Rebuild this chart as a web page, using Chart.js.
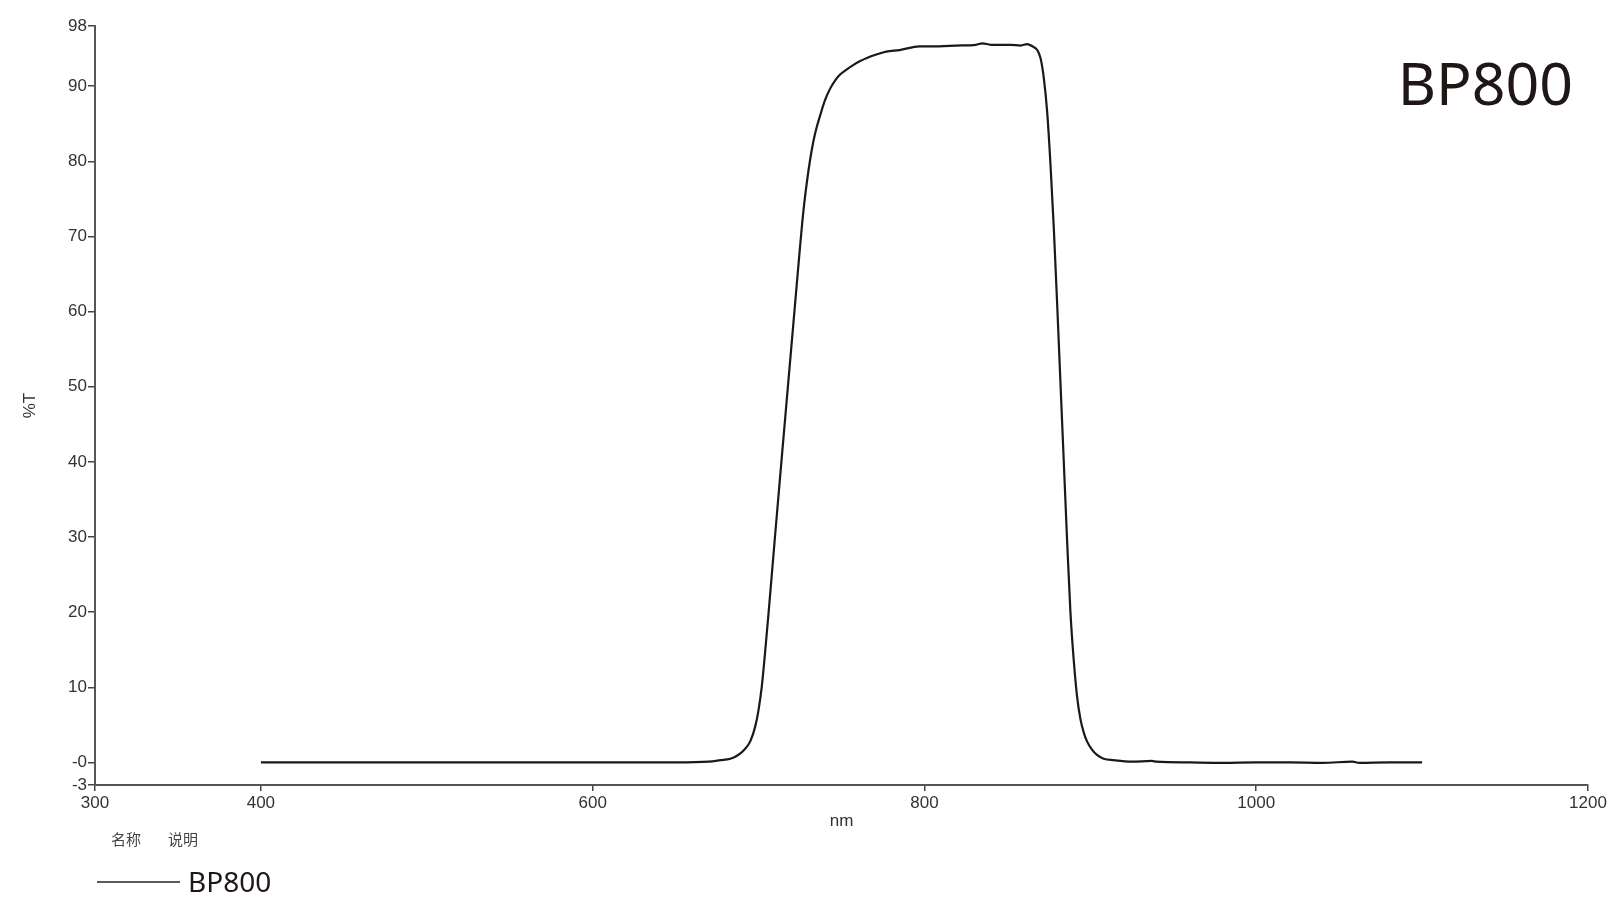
<!DOCTYPE html>
<html>
<head>
<meta charset="utf-8">
<title>BP800</title>
<script src="https://cdn.jsdelivr.net/npm/chart.js@4.4.1/dist/chart.umd.min.js"></script>
<style>
    html, body { margin: 0; padding: 0; background: #fff; }
    #wrap { position: relative; width: 1619px; height: 914px; }
</style>
</head>
<body>
<div id="wrap"><canvas id="spectrum"></canvas></div>
<script>
// Transmission curve
const wavelengths = [400, 500, 600, 650, 670, 677, 683, 687, 691, 695, 698, 700, 702, 704, 706, 710, 714, 718, 722, 725,
    727, 729, 731, 733, 735, 737, 740, 743, 746, 749, 753, 757, 761, 766, 771, 777, 785,
    797, 809, 819, 831, 835, 840, 846, 852, 858, 862, 865, 868, 870, 872, 874, 876, 878, 880, 882, 884,
    886, 888, 890, 892, 894, 896, 898, 901, 904, 908, 914, 925, 937, 940, 960, 980, 1000, 1020, 1040, 1058,
    1062, 1080, 1100];
const transmission = [0, 0, 0, 0, 0.1, 0.3, 0.5, 0.9, 1.6, 2.8, 4.8, 7.0, 10.2, 14.8, 19.8, 30.3, 40.6, 50.8, 61.0, 68.6,
    73.3, 77.0, 80.1, 82.6, 84.5, 86.0, 88.1, 89.6, 90.7, 91.5, 92.2, 92.8, 93.3, 93.8, 94.2, 94.6, 94.8,
    95.3, 95.3, 95.4, 95.5, 95.7, 95.5, 95.5, 95.5, 95.4, 95.6, 95.3, 94.8, 93.7, 91.0, 86.5, 79.5, 71.0, 61.0, 50.5, 40.0,
    29.5, 20.0, 13.6, 8.8, 5.8, 4.0, 2.8, 1.7, 1.0, 0.5, 0.3, 0.1, 0.2, 0.1, 0, -0.05, 0, 0, -0.05, 0.1,
    -0.05, 0, 0];

const seriesName = 'BP800';
const xTicks = [300, 400, 600, 800, 1000, 1200];
const yTicks = [-3, 0, 10, 20, 30, 40, 50, 60, 70, 80, 90, 98];
const yTickLabels = ['-3', '-0', '10', '20', '30', '40', '50', '60', '70', '80', '90', '98'];
const legendHeaders = ['名称', '说明'];

const tickFont = { family: "'Liberation Sans', Arial, sans-serif", size: 17 };

// Big label in the corner plus the little legend block under the axis
const extrasPlugin = {
    id: 'extras',
    afterDraw(chart) {
        const ctx = chart.ctx;
        ctx.save();
        ctx.fillStyle = '#1e1716';
        ctx.font = "59px 'Noto Sans', 'Open Sans', sans-serif";
        ctx.textAlign = 'right';
        ctx.textBaseline = 'alphabetic';
        ctx.fillText(seriesName, 1573, 105);

        ctx.fillStyle = '#444';
        ctx.font = "15px 'Noto Sans CJK SC', sans-serif";
        ctx.textAlign = 'left';
        ctx.textBaseline = 'middle';
        ctx.fillText(legendHeaders[0], 111, 839);
        ctx.fillText(legendHeaders[1], 168, 839);

        ctx.strokeStyle = '#2a2222';
        ctx.lineWidth = 1.6;
        ctx.beginPath();
        ctx.moveTo(97, 882);
        ctx.lineTo(180, 882);
        ctx.stroke();

        ctx.fillStyle = '#1e1716';
        ctx.font = "28px 'Noto Sans', 'Open Sans', sans-serif";
        ctx.textBaseline = 'alphabetic';
        ctx.fillText(seriesName, 188, 892);
        ctx.restore();
    }
};

function initSpectrumChart() {
    const ctx = document.getElementById('spectrum').getContext('2d');
    const points = wavelengths.map((w, i) => ({ x: w, y: transmission[i] }));

    new Chart(ctx, {
        type: 'line',
        data: {
            datasets: [{
                label: seriesName,
                data: points,
                borderColor: '#1e1716',
                borderWidth: 2.2,
                pointRadius: 0,
                cubicInterpolationMode: 'monotone',
                fill: false
            }]
        },
        options: {
            responsive: true,
            maintainAspectRatio: false,
            animation: false,
            devicePixelRatio: 1,
            layout: { padding: { left: 0, right: 31, top: 26, bottom: 0 } },
            plugins: {
                legend: { display: false },
                tooltip: { enabled: false }
            },
            scales: {
                x: {
                    type: 'linear',
                    min: 300,
                    max: 1200,
                    afterFit: scale => { scale.height = 129; },
                    afterBuildTicks: scale => { scale.ticks = xTicks.map(v => ({ value: v })); },
                    ticks: {
                        color: '#333',
                        font: tickFont,
                        padding: 2,
                        maxRotation: 0,
                        autoSkip: false,
                        callback: value => String(value)
                    },
                    grid: { drawOnChartArea: false, tickLength: 6, color: '#444', lineWidth: 1.5 },
                    border: { display: true, color: '#555', width: 2 },
                    title: {
                        display: true,
                        text: 'nm',
                        color: '#333',
                        font: { family: "'Liberation Sans', Arial, sans-serif", size: 17 },
                        padding: { top: 0, bottom: 82 }
                    }
                },
                y: {
                    type: 'linear',
                    min: -3,
                    max: 98,
                    afterFit: scale => { scale.width = 95; },
                    afterBuildTicks: scale => { scale.ticks = yTicks.map(v => ({ value: v })); },
                    ticks: {
                        color: '#333',
                        font: tickFont,
                        padding: 1,
                        callback: value => yTickLabels[yTicks.indexOf(value)]
                    },
                    grid: { drawOnChartArea: false, tickLength: 7, color: '#444', lineWidth: 1.5 },
                    border: { display: true, color: '#555', width: 2 },
                    title: {
                        display: true,
                        text: '%T',
                        color: '#333',
                        font: { family: "'Liberation Sans', Arial, sans-serif", size: 17 },
                        padding: { top: 20, bottom: 0 }
                    }
                }
            }
        },
        plugins: [extrasPlugin]
    });
}

document.addEventListener('DOMContentLoaded', initSpectrumChart);
</script>
</body>
</html>
